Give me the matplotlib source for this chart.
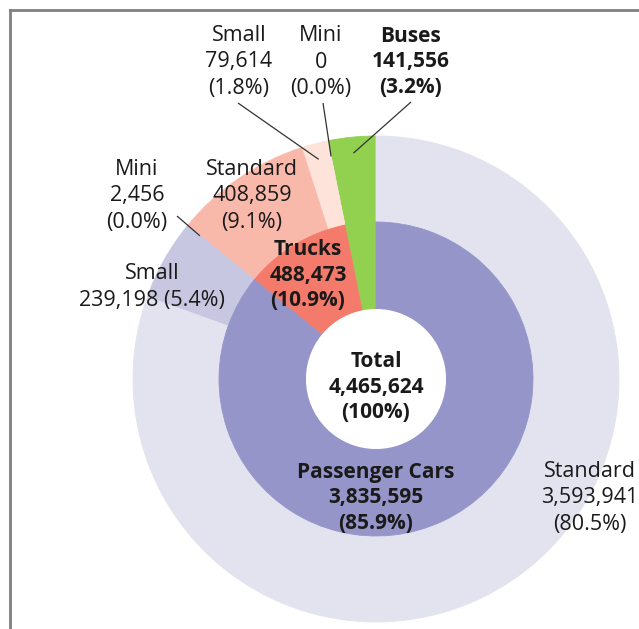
import matplotlib
matplotlib.use("Agg")
import matplotlib.pyplot as plt
import numpy as np

# ---- data ----
inner_labels = ["Buses", "Trucks", "Passenger Cars"]
inner_values = [141556, 488473, 3835595]
inner_pcts = ["3.2%", "10.9%", "85.9%"]

outer_labels = ["Buses", "Mini", "Small", "Standard", "Mini", "Small", "Standard"]
outer_values = [141556, 0, 79614, 408859, 2456, 239198, 3593941]
outer_pcts = ["3.2%", "0.0%", "1.8%", "9.1%", "0.0%", "5.4%", "80.5%"]

total_value = 4465624
total_pct = "100%"

inner_colors = ["#92d050", "#f47b6b", "#9595c9"]
outer_colors = ["#92d050", "#fde3da", "#fde3da", "#f9b9aa", "#c7c7e1", "#c7c7e1", "#e3e3f0"]

W, H = 639, 629
fig = plt.figure(figsize=(W / 100, H / 100), dpi=100)
ax = fig.add_axes([0, 0, 1, 1])
ax.set_xlim(0, W)
ax.set_ylim(0, H)
ax.set_aspect("equal")
ax.axis("off")

plt.rcParams["font.family"] = ["Open Sans", "DejaVu Sans"]

def Y(p):
    return H - p

cx, cy = 376, Y(379)
R_out, R_in, R_hole = 243, 157, 70

outer_w, _ = ax.pie(outer_values, radius=R_out, center=(cx, cy), startangle=90,
                    counterclock=True, colors=outer_colors,
                    wedgeprops=dict(width=R_out - R_in, linewidth=0))
inner_w, _ = ax.pie(inner_values, radius=R_in, center=(cx, cy), startangle=90,
                    counterclock=True, colors=inner_colors,
                    wedgeprops=dict(width=R_in - R_hole, linewidth=0))
for w in list(outer_w) + list(inner_w):
    w.set_edgecolor(w.get_facecolor())
    w.set_linewidth(0.6)
ax.add_patch(plt.Circle((cx, cy), R_hole, color="white", lw=0))
ax.set_xlim(0, W)
ax.set_ylim(0, H)

def fmt(v):
    return f"{v:,}"

tc = "#1a1a1a"

def lab(x, y, s, bold=False, ha="center"):
    ax.text(x, Y(y), s, ha=ha, va="center", fontsize=15 if bold else 15.5, color=tc,
            fontweight="bold" if bold else "normal",
            linespacing=1.27 if bold else 1.32)

# top labels
lab(239, 62, f"{outer_labels[2]}\n{fmt(outer_values[2])}\n({outer_pcts[2]})")
lab(321, 62, f"{outer_labels[1]}\n{fmt(outer_values[1])}\n({outer_pcts[1]})")
lab(411, 62, f"{inner_labels[0]}\n{fmt(inner_values[0])}\n({inner_pcts[0]})", bold=True)
# left labels
lab(137, 196, f"{outer_labels[4]}\n{fmt(outer_values[4])}\n({outer_pcts[4]})")
lab(252, 196, f"{outer_labels[3]}\n{fmt(outer_values[3])}\n({outer_pcts[3]})")
lab(308, 275, f"{inner_labels[1]}\n{fmt(inner_values[1])}\n({inner_pcts[1]})", bold=True)
lab(152, 287, f"{outer_labels[5]}\n{fmt(outer_values[5])} ({outer_pcts[5]})")
# centre
lab(376, 387, f"Total\n{fmt(total_value)}\n({total_pct})", bold=True)
lab(376, 498, f"{inner_labels[2]}\n{fmt(inner_values[2])}\n({inner_pcts[2]})", bold=True)
lab(590, 498, f"{outer_labels[6]}\n{fmt(outer_values[6])}\n({outer_pcts[6]})")

# leader lines: from label to wedge
def wedge_point(w, frac, r):
    a = np.deg2rad(w.theta1 + (w.theta2 - w.theta1) * frac)
    return cx + r * np.cos(a), cy + r * np.sin(a)

leaders = [
    ((238, 103), outer_w[2], 0.5),
    ((323, 103), outer_w[1], 0.5),
    ((411, 102), outer_w[0], 0.5),
    ((177, 216), outer_w[4], 0.5),
]
for (sx, sy), w, f in leaders:
    ex, ey = wedge_point(w, f, 227)
    ax.plot([sx, ex], [Y(sy), ey], color="#333333", lw=0.9, solid_capstyle="butt")

# frame
ax.plot([10, W], [Y(10), Y(10)], color="#808080", lw=2, clip_on=False)
ax.plot([10, 10], [Y(10), 0], color="#808080", lw=2, clip_on=False)

fig.savefig("out.png", dpi=100)
